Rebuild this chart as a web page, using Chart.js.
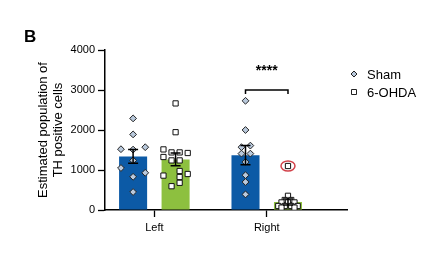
<!DOCTYPE html>
<html>
<head>
<meta charset="utf-8">
<script src="https://cdn.jsdelivr.net/npm/chart.js@4.4.1/dist/chart.umd.min.js"></script>
<style>
  html, body { margin: 0; padding: 0; background: #fff; }
  #wrap { position: relative; width: 447px; height: 258px; }
  #panel { position: absolute; left: 24px; top: 27px; font: bold 17px 'Liberation Sans', Arial, sans-serif; color: #000; }
</style>
</head>
<body>
<div id="wrap">
  <canvas id="chart"></canvas>
  <div id="panel">B</div>
</div>
<script>
// categories and groups
const categories = ['Left', 'Right'];
const seriesNames = ['Sham', '6-OHDA'];

// bar heights (mean) and SEM
const shamMeans = [1340, 1370];
const shamSem = [170, 240];
const ohdaMeans = [1265, 200];
const ohdaSem = [160, 75];

// individual animals, with their beeswarm column
const shamLeft = [2290, 1890, 1520, 1510, 1570, 1240, 1050, 930, 830, 450];
const shamLeftCol = [0, 0, -3, 0, 3, 0, -3, 3, 0, 0];
const shamRight = [2730, 2000, 1570, 1610, 1410, 1410, 1200, 870, 700, 390];
const shamRightCol = [0, 0, -1, 1.2, -1, 1.2, 0, 0, 0, 0];
const ohdaLeft = [2665, 1945, 1515, 1440, 1440, 1425, 1325, 1240, 1240, 975, 900, 825, 860, 595, 680];
const ohdaLeftCol = [0, 0, -3, -1, 1, 3, -3, -1, 1, 1, 3, 1, -3, -1, 1];
const ohdaRight = [1100, 355, 250, 250, 190, 190, 190, 100, 100, 100, 100, 60, 60];
const ohdaRightCol = [0, 0, -0.8, 0.8, -1.6, 0, 1.6, -2.4, -0.8, 0.8, 2.4, -1.6, 1.6];
const outlierIndex = 0; // circled point in Right / 6-OHDA

const yTicks = [0, 1000, 2000, 3000, 4000];
const bracketLevel = 3000;
const starsLevel = 3480;
const starsText = '****';

const blue = '#0c5aa6';
const green = '#8dc03f';
const diamondFill = '#b9c9dc';
const FONT = "'Liberation Sans', Arial, sans-serif";

const catPct = 0.756;
const barPct = 0.66;
const groupShift = catPct / 4;
const colStep = 0.036;

function swarm(values, cols, cat, side) {
  return values.map((v, i) => ({ x: cat + 1 + side * groupShift + cols[i] * colStep, y: v }));
}

const swarmOffset = ohdaLeft.length;

const extras = {
  id: 'extras',
  afterDatasetsDraw(chart) {
    const ctx = chart.ctx, y = chart.scales.y;
    const sems = [shamSem, ohdaSem];
    const means = [shamMeans, ohdaMeans];
    ctx.save();
    ctx.strokeStyle = '#000';
    ctx.lineWidth = 1.5;
    [0, 1].forEach(ds => {
      chart.getDatasetMeta(ds).data.forEach((el, i) => {
        const top = y.getPixelForValue(means[ds][i] + sems[ds][i]);
        const bot = y.getPixelForValue(Math.max(0, means[ds][i] - sems[ds][i]));
        ctx.beginPath();
        ctx.moveTo(el.x, top); ctx.lineTo(el.x, bot);
        ctx.moveTo(el.x - 5, top); ctx.lineTo(el.x + 5, top);
        ctx.moveTo(el.x - 5, bot); ctx.lineTo(el.x + 5, bot);
        ctx.stroke();
      });
    });

    // significance bracket on Right
    const a = chart.getDatasetMeta(0).data[1].x;
    const b = chart.getDatasetMeta(1).data[1].x;
    const by = y.getPixelForValue(bracketLevel);
    ctx.beginPath();
    ctx.moveTo(a, by + 4); ctx.lineTo(a, by); ctx.lineTo(b, by); ctx.lineTo(b, by + 4);
    ctx.stroke();
    ctx.fillStyle = '#000';
    ctx.font = 'bold 14px ' + FONT;
    ctx.textAlign = 'center';
    ctx.textBaseline = 'middle';
    ctx.fillText(starsText, (a + b) / 2, y.getPixelForValue(starsLevel));

    // red ring round the outlier
    const p = chart.getDatasetMeta(3).data[swarmOffset + outlierIndex];
    ctx.strokeStyle = '#d2434b';
    ctx.lineWidth = 1.5;
    ctx.beginPath();
    ctx.ellipse(p.x, p.y, 7, 5, 0, 0, Math.PI * 2);
    ctx.stroke();

    // legend
    const lx = chart.chartArea.right + 7;
    const rows = [chart.chartArea.top + 24, chart.chartArea.top + 42];
    ctx.lineWidth = 1;
    ctx.strokeStyle = '#222';
    ctx.fillStyle = diamondFill;
    ctx.beginPath();
    ctx.moveTo(lx, rows[0] - 3); ctx.lineTo(lx + 3, rows[0]);
    ctx.lineTo(lx, rows[0] + 3); ctx.lineTo(lx - 3, rows[0]);
    ctx.closePath(); ctx.fill(); ctx.stroke();
    ctx.fillStyle = '#fff';
    ctx.beginPath();
    ctx.rect(lx - 2.5, rows[1] - 2.5, 5, 5);
    ctx.fill(); ctx.stroke();
    ctx.fillStyle = '#000';
    ctx.font = '13px ' + FONT;
    ctx.textAlign = 'left';
    seriesNames.forEach((n, i) => ctx.fillText(n, lx + 13, rows[i] + 1));
    ctx.restore();
  }
};

new Chart(document.getElementById('chart'), {
  type: 'bar',
  data: {
    datasets: [
      {
        label: seriesNames[0],
        data: categories.map((c, i) => ({ x: i + 1, y: shamMeans[i] })),
        backgroundColor: blue,
        categoryPercentage: catPct,
        barPercentage: barPct,
        order: 3
      },
      {
        label: seriesNames[1],
        data: categories.map((c, i) => ({ x: i + 1, y: ohdaMeans[i] })),
        backgroundColor: green,
        categoryPercentage: catPct,
        barPercentage: barPct,
        order: 3
      },
      {
        type: 'scatter',
        label: seriesNames[0] + ' points',
        data: swarm(shamLeft, shamLeftCol, 0, -1).concat(swarm(shamRight, shamRightCol, 1, -1)),
        pointStyle: 'rectRot',
        pointRadius: 3.4,
        backgroundColor: diamondFill,
        borderColor: '#222',
        borderWidth: 1,
        order: 1
      },
      {
        type: 'scatter',
        label: seriesNames[1] + ' points',
        data: swarm(ohdaLeft, ohdaLeftCol, 0, 1).concat(swarm(ohdaRight, ohdaRightCol, 1, 1)),
        pointStyle: 'rect',
        pointRadius: 3.7,
        backgroundColor: '#fff',
        borderColor: '#111',
        borderWidth: 1,
        order: 1
      }
    ]
  },
  options: {
    responsive: true,
    maintainAspectRatio: false,
    animation: false,
    layout: { padding: { left: 0, top: 50, right: 100, bottom: 0 } },
    plugins: { legend: { display: false }, tooltip: { enabled: false } },
    scales: {
      x: {
        type: 'linear',
        offset: false,
        min: 0.561,
        max: 2.714,
        afterBuildTicks: s => { s.ticks = categories.map((c, i) => ({ value: i + 1 })); },
        afterFit: s => { s.height = 48; },
        ticks: {
          callback: v => categories[v - 1],
          autoSkip: false,
          maxRotation: 0,
          padding: 4,
          color: '#000',
          font: { family: FONT, size: 11 }
        },
        grid: { offset: false, drawOnChartArea: false, drawTicks: true, tickLength: 7, tickColor: '#000', tickWidth: 1.3 },
        border: { color: '#000', width: 1.5 }
      },
      y: {
        min: 0,
        max: 4000,
        afterBuildTicks: s => { s.ticks = yTicks.map(v => ({ value: v })); },
        afterFit: s => { s.width = 105; },
        ticks: { callback: v => String(v), color: '#000', padding: 3, font: { family: FONT, size: 11 } },
        grid: { drawOnChartArea: false, drawTicks: true, tickLength: 7, tickColor: '#000', tickWidth: 1.3 },
        border: { color: '#000', width: 1.5 },
        title: {
          display: true,
          text: ['Estimated population of', 'TH positive cells'],
          color: '#000',
          font: { family: FONT, size: 13, lineHeight: 1.15 },
          padding: { top: 36, bottom: 0 }
        }
      }
    }
  },
  plugins: [extras]
});
</script>
</body>
</html>
